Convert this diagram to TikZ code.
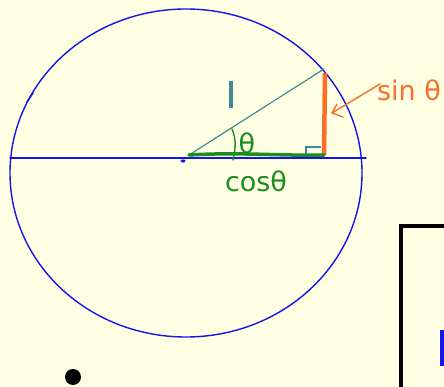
\documentclass[tikz,border=0pt]{standalone}
\usepackage{fontspec}
\setmainfont{DejaVu Sans}
\usetikzlibrary{arrows.meta}
\definecolor{bg}{RGB}{255,255,228}
\definecolor{pblue}{RGB}{20,20,235}
\definecolor{pteal}{RGB}{60,140,150}
\definecolor{pgreen}{RGB}{30,140,30}
\definecolor{porange}{RGB}{250,110,40}
\tikzset{
  pen/.style={line width=1.4pt, line cap=round, line join=round},
  lbl/.style={inner sep=0pt, font=\fontsize{27}{29}\selectfont}
}
\begin{document}
\begin{tikzpicture}[x=1pt,y=-1pt]
\fill[bg] (0,0) rectangle (444,387);
\useasboundingbox (0,0) rectangle (444,387);
% circle
\draw[pen, pblue] (186,173) ellipse [x radius=176, y radius=164];
\draw[pen, pblue] (27,102) -- (33,93);
% diameter
\coordinate (L) at (10,158);
\coordinate (R) at (366,158);
\draw[pen, pblue] (L) -- (R);
\fill[pblue] (183,161) ellipse [x radius=2.5, y radius=1.6];
% triangle points
\coordinate (O) at (189,155);
\coordinate (P) at (324,69);
\coordinate (F) at (324,155);
\draw[pen, pteal, line width=1.2pt] (O) -- (P);
\draw[pteal, line width=1.2pt] (306,155) -- (306,147) -- (321,147);
\draw[porange, line width=4.5pt] (325,73) -- (F);
\draw[pgreen, line width=3.5pt, line cap=round] (O) .. controls (240,152) and (280,156) .. (F);
% theta arc
\draw[pen, pgreen] (232,129) .. controls (236,138) and (236,148) .. (233,160);
\node[lbl, text=pgreen] (th) at (247,143) {θ};
\node[lbl, text=pgreen] (cos) at (256,181) {cosθ};
% 1
\draw[pteal, line width=4.5pt] (231,81) -- (231,108);
% sin theta
\node[lbl, text=porange] (sin) at (409,90) {sin θ};
\coordinate (A) at (380,84);
\coordinate (B) at (332,113);
\draw[pen, porange] (A) -- (B);
\draw[pen, porange] (337,104) -- (B) -- (343,117);
% rectangle
\draw[line width=4pt] (401,390) -- (401,226) -- (450,226);
\fill[pblue] (440,330) rectangle (445,366);
% dot
\fill (73,377) circle (8);
\end{tikzpicture}
\end{document}
